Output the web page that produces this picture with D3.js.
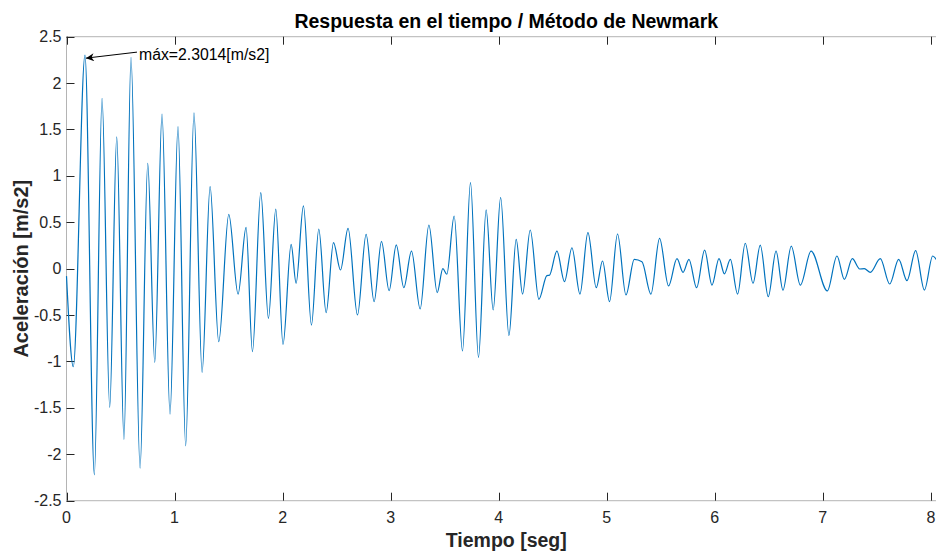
<!DOCTYPE html>
<html>
<head>
<meta charset="utf-8">
<script src="https://cdn.jsdelivr.net/npm/d3@7"></script>
<style>
  body { margin: 0; background: #fff; }
  svg { display: block; font-family: "Liberation Sans", Arial, sans-serif; }
</style>
</head>
<body>
<svg id="chart" width="936" height="551"></svg>
<script>
const tiempo = [
  0, 0.063, 0.171, 0.258, 0.329, 0.40, 0.465, 0.532, 0.597, 0.681,
  0.752, 0.817, 0.884, 0.958, 1.032, 1.103, 1.18, 1.255, 1.329, 1.409,
  1.502, 1.588, 1.662, 1.721, 1.798, 1.869, 1.937, 2.004, 2.079, 2.125,
  2.193, 2.267, 2.335, 2.403, 2.471, 2.536, 2.606, 2.693, 2.773, 2.847,
  2.915, 2.986, 3.052, 3.122, 3.193, 3.273, 3.354, 3.431, 3.483, 3.52,
  3.588, 3.665, 3.739, 3.813, 3.884, 3.949, 4.018, 4.095, 4.162, 4.221,
  4.292, 4.372, 4.446, 4.47, 4.539, 4.609, 4.678, 4.752, 4.826, 4.903,
  4.961, 5.026, 5.1, 5.178, 5.255, 5.326, 5.409, 5.489, 5.572, 5.65,
  5.706, 5.761, 5.832, 5.906, 5.974, 6.039, 6.089, 6.144, 6.211, 6.282,
  6.354, 6.421, 6.495, 6.567, 6.631, 6.708, 6.792, 6.891, 7.042, 7.131,
  7.199, 7.273, 7.341, 7.384, 7.44, 7.532, 7.619, 7.702, 7.779, 7.859,
  7.94, 8.017, 8.06
];
const aceleracion = [
  -0.08, -1.056, 2.3014, -2.22, 1.836, -1.494, 1.42, -1.84, 2.278, -2.15,
  1.136, -1.009, 1.667, -1.566, 1.53, -1.91, 1.68, -1.117, 0.884, -0.786,
  0.586, -0.273, 0.446, -0.894, 0.819, -0.535, 0.643, -0.815, 0.263, -0.157,
  0.676, -0.607, 0.428, -0.474, 0.28, -0.014, 0.435, -0.499, 0.37, -0.355,
  0.295, -0.237, 0.257, -0.205, 0.19, -0.434, 0.471, -0.258, 0.0, -0.06,
  0.568, -0.887, 0.927, -0.955, 0.633, -0.445, 0.769, -0.72, 0.317, -0.273,
  0.417, -0.33, -0.075, -0.07, 0.19, -0.14, 0.226, -0.273, 0.388, -0.205,
  0.083, -0.355, 0.374, -0.283, 0.101, 0.075, -0.273, 0.327, -0.186, 0.108,
  -0.039, 0.101, -0.205, 0.2, -0.176, 0.108, -0.055, 0.1, -0.273, 0.274,
  -0.157, 0.255, -0.301, 0.19, -0.23, 0.244, -0.176, 0.19, -0.24, 0.137,
  -0.115, 0.108, -0.003, 0.0, -0.039, 0.108, -0.165, 0.101, -0.129, 0.194,
  -0.23, 0.137, 0.08
];
const xTicks = [0, 1, 2, 3, 4, 5, 6, 7, 8];
const yTicks = [-2.5, -2, -1.5, -1, -0.5, 0, 0.5, 1, 1.5, 2, 2.5];
const maxTexto = "máx=2.3014[m/s2]";

const svg = d3.select("#chart");
// el eje sigue un poco mas alla del borde derecho de la imagen
const box = { left: 66.5, right: 946, top: 36.7, bottom: 500.7 };
const xMax = 8.14;

const x = d3.scaleLinear().domain([0, xMax]).range([box.left, box.right]);
const y = d3.scaleLinear().domain([-2.5, 2.5]).range([box.bottom, box.top]);

const data = tiempo.map((t, i) => ({ t: t, a: aceleracion[i] }));

// marco de los ejes
svg.append("rect")
  .attr("x", box.left).attr("y", box.top)
  .attr("width", box.right - box.left).attr("height", box.bottom - box.top)
  .attr("fill", "none")
  .attr("stroke", "#b4b4b4")
  .attr("stroke-width", 1);

// ticks hacia dentro
const tickLen = 8;
const px = v => Math.round(v) + 0.5;
svg.append("g")
  .selectAll("line")
  .data(xTicks)
  .join("line")
  .attr("x1", d => px(x(d))).attr("x2", d => px(x(d)))
  .attr("y1", box.bottom).attr("y2", box.bottom - tickLen)
  .attr("stroke", "#262626");
svg.append("g")
  .selectAll("line")
  .data(xTicks)
  .join("line")
  .attr("x1", d => px(x(d))).attr("x2", d => px(x(d)))
  .attr("y1", box.top).attr("y2", box.top + tickLen)
  .attr("stroke", "#262626");
svg.append("g")
  .selectAll("line")
  .data(yTicks)
  .join("line")
  .attr("x1", box.left).attr("x2", box.left + tickLen)
  .attr("y1", d => px(y(d))).attr("y2", d => px(y(d)))
  .attr("stroke", "#262626");

// etiquetas de los ticks
svg.append("g")
  .selectAll("text")
  .data(xTicks)
  .join("text")
  .attr("x", d => x(d))
  .attr("y", box.bottom + 22)
  .attr("text-anchor", "middle")
  .style("font-size", "16px")
  .style("fill", "#262626")
  .text(d => d);

svg.append("g")
  .selectAll("text")
  .data(yTicks)
  .join("text")
  .attr("x", box.left - 5)
  .attr("y", d => y(d) + 5.5)
  .attr("text-anchor", "end")
  .style("font-size", "16px")
  .style("fill", "#262626")
  .text(d => d);

// la respuesta
const line = d3.line()
  .x(d => x(d.t))
  .y(d => y(d.a))
  .curve(d3.curveMonotoneX);

svg.append("path")
  .datum(data)
  .attr("d", line)
  .attr("fill", "none")
  .attr("stroke", "#0072BD")
  .attr("stroke-width", 1.2);

// anotacion del maximo
svg.append("defs").append("marker")
  .attr("id", "flecha")
  .attr("viewBox", "0 0 10 10")
  .attr("refX", 10).attr("refY", 5)
  .attr("markerWidth", 10).attr("markerHeight", 8)
  .attr("markerUnits", "userSpaceOnUse")
  .attr("orient", "auto")
  .append("path")
  .attr("d", "M0,0 L10,5 L0,10 L3,5 Z")
  .attr("fill", "#000");

const iMax = d3.maxIndex(aceleracion);
svg.append("line")
  .attr("x1", x(tiempo[iMax]) + 52).attr("y1", y(aceleracion[iMax]) - 3)
  .attr("x2", x(tiempo[iMax]) + 1).attr("y2", y(aceleracion[iMax]) + 3)
  .attr("stroke", "#000")
  .attr("stroke-width", 1)
  .attr("marker-end", "url(#flecha)");

svg.append("text")
  .attr("x", x(tiempo[iMax]) + 54)
  .attr("y", y(aceleracion[iMax]) + 4.5)
  .style("font-size", "15.8px")
  .style("fill", "#000")
  .text(maxTexto);

// titulos
const centro = (box.left + box.right) / 2;
svg.append("text")
  .attr("x", centro)
  .attr("y", 28)
  .attr("text-anchor", "middle")
  .style("font-size", "19.5px")
  .style("font-weight", "bold")
  .style("fill", "#000")
  .text("Respuesta en el tiempo / Método de Newmark");

svg.append("text")
  .attr("x", centro)
  .attr("y", 547)
  .attr("text-anchor", "middle")
  .style("font-size", "19.5px")
  .style("font-weight", "bold")
  .style("fill", "#262626")
  .text("Tiempo [seg]");

svg.append("text")
  .attr("transform", `translate(28,${(box.top + box.bottom) / 2}) rotate(-90)`)
  .attr("text-anchor", "middle")
  .style("font-size", "20px")
  .style("font-weight", "bold")
  .style("fill", "#262626")
  .text("Aceleración [m/s2]");
</script>
</body>
</html>
